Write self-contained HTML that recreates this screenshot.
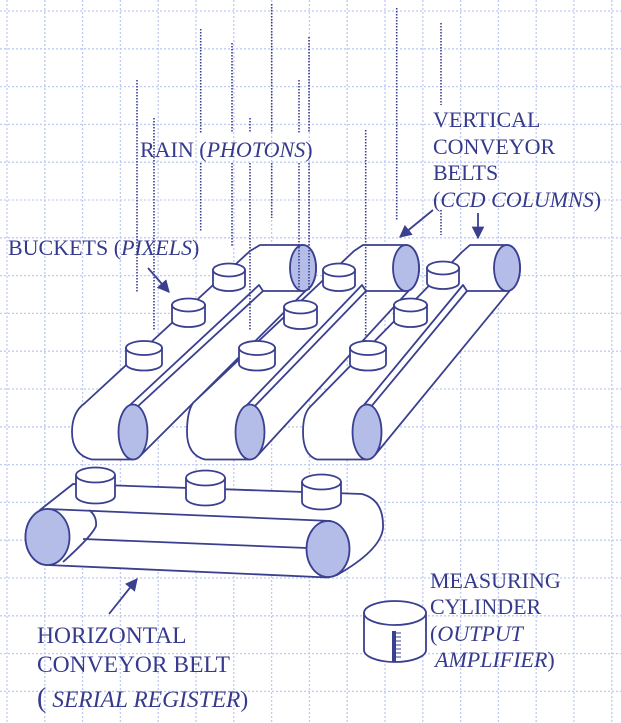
<!DOCTYPE html>
<html><head><meta charset="utf-8"><style>
html,body{margin:0;padding:0;background:#fff;}
svg{display:block;}
text{font-family:"Liberation Serif",serif;font-size:22px;fill:#353a8c;}
</style></head><body>
<svg width="621" height="723" viewBox="0 0 621 723" xmlns="http://www.w3.org/2000/svg">
<defs>
<marker id="ah" viewBox="0 0 10 10" refX="9" refY="5" markerWidth="7" markerHeight="7" orient="auto"><path d="M0,0 L10,5 L0,10 Z" fill="#3a3f8f"/></marker>
</defs>
<!-- grid -->
<g stroke="#bfcbf3" stroke-width="1.3" stroke-dasharray="2 2">
<line x1="7" y1="0" x2="7" y2="723"/><line x1="44.8" y1="0" x2="44.8" y2="723"/><line x1="82.6" y1="0" x2="82.6" y2="723"/><line x1="120.4" y1="0" x2="120.4" y2="723"/><line x1="158.2" y1="0" x2="158.2" y2="723"/><line x1="196" y1="0" x2="196" y2="723"/><line x1="233.8" y1="0" x2="233.8" y2="723"/><line x1="271.6" y1="0" x2="271.6" y2="723"/><line x1="309.4" y1="0" x2="309.4" y2="723"/><line x1="347.2" y1="0" x2="347.2" y2="723"/><line x1="385" y1="0" x2="385" y2="723"/><line x1="422.8" y1="0" x2="422.8" y2="723"/><line x1="460.6" y1="0" x2="460.6" y2="723"/><line x1="498.4" y1="0" x2="498.4" y2="723"/><line x1="536.2" y1="0" x2="536.2" y2="723"/><line x1="574" y1="0" x2="574" y2="723"/><line x1="611.8" y1="0" x2="611.8" y2="723"/>
<line x1="0" y1="11" x2="621" y2="11"/><line x1="0" y1="48.8" x2="621" y2="48.8"/><line x1="0" y1="86.6" x2="621" y2="86.6"/><line x1="0" y1="124.4" x2="621" y2="124.4"/><line x1="0" y1="162.2" x2="621" y2="162.2"/><line x1="0" y1="200" x2="621" y2="200"/><line x1="0" y1="237.8" x2="621" y2="237.8"/><line x1="0" y1="275.6" x2="621" y2="275.6"/><line x1="0" y1="313.4" x2="621" y2="313.4"/><line x1="0" y1="351.2" x2="621" y2="351.2"/><line x1="0" y1="389" x2="621" y2="389"/><line x1="0" y1="426.8" x2="621" y2="426.8"/><line x1="0" y1="464.6" x2="621" y2="464.6"/><line x1="0" y1="502.4" x2="621" y2="502.4"/><line x1="0" y1="540.2" x2="621" y2="540.2"/><line x1="0" y1="578" x2="621" y2="578"/><line x1="0" y1="615.8" x2="621" y2="615.8"/><line x1="0" y1="653.6" x2="621" y2="653.6"/><line x1="0" y1="691.4" x2="621" y2="691.4"/>
</g>

<g stroke="#3a3f8f" stroke-width="1.8" fill="#fff" stroke-linejoin="round">
<!-- belt 1 -->
<path d="M85,403 L250,251 L260,245 L303,245 A13 23 0 0 1 306,290.4 L141,455 L133,459.5 L92,459.5 Q72,455 72,432 Q72,412 85,403 Z"/>
<path d="M130,405 L259,285 L263,291 L303,291 M136,408 L263,291" fill="none"/>
<ellipse cx="133" cy="432" rx="14.5" ry="27.5" fill="#b4bde8"/>
<ellipse cx="303" cy="268" rx="13" ry="23" fill="#b4bde8"/>
<!-- belt 2 -->
<path d="M193,403 L354,251 L363,245 L406,245 A13 23 0 0 1 409,290.4 L258,455 L250,459.5 L205,459.5 Q187,455 187,432 Q187,412 193,403 Z"/>
<path d="M247,405 L362,285 L366,291 L406,291 M253,408 L366,291" fill="none"/>
<ellipse cx="250" cy="432" rx="14.5" ry="27.5" fill="#b4bde8"/>
<ellipse cx="406" cy="268" rx="13" ry="23" fill="#b4bde8"/>
<!-- belt 3 -->
<path d="M310,407 L462,252 L470,245 L507,245 A13 23 0 0 1 510,290.4 L375,455 L367,459.5 L317,459.5 Q303,455 303,432 Q303,414 310,407 Z"/>
<path d="M364,405 L463,285 L467,291 L507,291 M370,408 L467,291" fill="none"/>
<ellipse cx="367" cy="432" rx="14.5" ry="27.5" fill="#b4bde8"/>
<ellipse cx="507" cy="268" rx="13" ry="23" fill="#b4bde8"/>
</g>

<!-- rain -->
<g stroke="#3a3f8f" stroke-width="1.6" stroke-dasharray="1.5 1.5" fill="none">
<line x1="137" y1="80" x2="137" y2="292"/>
<line x1="154" y1="118" x2="154" y2="330"/>
<line x1="200.7" y1="29" x2="200.7" y2="133"/><line x1="200.7" y1="163" x2="200.7" y2="232"/>
<line x1="232" y1="43" x2="232" y2="133"/><line x1="232" y1="163" x2="232" y2="246"/>
<line x1="250" y1="118" x2="250" y2="133"/><line x1="250" y1="163" x2="250" y2="330"/>
<line x1="271.7" y1="4" x2="271.7" y2="133"/><line x1="271.7" y1="163" x2="271.7" y2="218"/>
<line x1="299" y1="80" x2="299" y2="133"/><line x1="299" y1="163" x2="299" y2="290"/>
<line x1="309" y1="37" x2="309" y2="133"/><line x1="309" y1="163" x2="309" y2="290"/>
<line x1="365.7" y1="130" x2="365.7" y2="342"/>
<line x1="396.7" y1="8" x2="396.7" y2="220"/>
<line x1="441" y1="23" x2="441" y2="105"/><line x1="441" y1="210" x2="441" y2="235"/>
</g>

<!-- buckets vertical belts -->
<g stroke="#3a3f8f" stroke-width="1.8" fill="#fff">
<path d="M213,270 L213,285 A16 6 0 0 0 245,285 L245,270 Z"/><ellipse cx="229" cy="270" rx="16" ry="6.5"/>
<path d="M172,305 L172,321 A16.5 6 0 0 0 205,321 L205,305 Z"/><ellipse cx="188.5" cy="305" rx="16.5" ry="6.5"/>
<path d="M126,348 L126,364 A18 6.5 0 0 0 162,364 L162,348 Z"/><ellipse cx="144" cy="348" rx="18" ry="7"/>
<path d="M323,270 L323,285 A16 6 0 0 0 355,285 L355,270 Z"/><ellipse cx="339" cy="270" rx="16" ry="6.5"/>
<path d="M284,307 L284,323 A16.5 6 0 0 0 317,323 L317,307 Z"/><ellipse cx="300.5" cy="307" rx="16.5" ry="6.5"/>
<path d="M239,348 L239,364 A18 6.5 0 0 0 275,364 L275,348 Z"/><ellipse cx="257" cy="348" rx="18" ry="7"/>
<path d="M427,268 L427,283 A16 6 0 0 0 459,283 L459,268 Z"/><ellipse cx="443" cy="268" rx="16" ry="6.5"/>
<path d="M394,305 L394,321 A16.5 6 0 0 0 427,321 L427,305 Z"/><ellipse cx="410.5" cy="305" rx="16.5" ry="6.5"/>
<path d="M350,348 L350,364 A18 6.5 0 0 0 386,364 L386,348 Z"/><ellipse cx="368" cy="348" rx="18" ry="7"/>
</g>

<!-- horizontal belt -->
<g stroke="#3a3f8f" stroke-width="1.8" fill="#fff" stroke-linejoin="round">
<path d="M40,510 L73,484 L362,494 Q384,500 383,528 Q381,550 337,575 L328,577.5 L47.5,565 A22 28 0 0 1 47.5,509 Z"/>
<path d="M47.5,509 L331,521 M83,539 L307,548 M89,510 Q97,516 96,526 Q92,536 63,562" fill="none"/>
<ellipse cx="47.5" cy="537" rx="22" ry="28" fill="#b4bde8"/>
<ellipse cx="328" cy="549" rx="21.5" ry="28" fill="#b4bde8"/>
<path d="M76,475 L76,496 A19.5 7.5 0 0 0 115,496 L115,475 Z"/><ellipse cx="95.5" cy="475" rx="19.5" ry="7.5"/>
<path d="M186,478 L186,498 A19.5 7.5 0 0 0 225,498 L225,478 Z"/><ellipse cx="205.5" cy="478" rx="19.5" ry="7.5"/>
<path d="M302,482 L302,502 A19.5 7.5 0 0 0 341,502 L341,482 Z"/><ellipse cx="321.5" cy="482" rx="19.5" ry="7.5"/>
<!-- measuring cylinder -->
<path d="M364,613 L364,650 A31 12 0 0 0 426,650 L426,613 Z"/><ellipse cx="395" cy="613" rx="31" ry="12"/>
</g>
<rect x="392" y="631" width="4" height="31" fill="#3a3f8f"/>
<g stroke="#3a3f8f" stroke-width="1">
<line x1="396" y1="633" x2="401" y2="633"/><line x1="396" y1="637" x2="401" y2="637"/><line x1="396" y1="641" x2="401" y2="641"/><line x1="396" y1="645" x2="401" y2="645"/><line x1="396" y1="649" x2="401" y2="649"/><line x1="396" y1="653" x2="401" y2="653"/><line x1="396" y1="657" x2="401" y2="657"/>
</g>

<!-- arrows -->
<g stroke="#3a3f8f" stroke-width="1.8" fill="none" marker-end="url(#ah)">
<line x1="148" y1="268" x2="169" y2="292"/>
<line x1="433" y1="210" x2="400" y2="237"/>
<line x1="478" y1="213" x2="478" y2="238"/>
<line x1="109" y1="614" x2="137" y2="579"/>
</g>

<!-- text -->
<text x="140" y="157">RAIN (<tspan font-style="italic">PHOTONS</tspan>)</text>
<text x="433" y="127">VERTICAL</text>
<text x="433" y="154">CONVEYOR</text>
<text x="433" y="180">BELTS</text>
<text x="433" y="207">(<tspan font-style="italic">CCD COLUMNS</tspan>)</text>
<text x="8" y="255">BUCKETS (<tspan font-style="italic">PIXELS</tspan>)</text>
<text x="37" y="643" style="font-size:23.5px">HORIZONTAL</text>
<text x="37" y="672" style="font-size:23.5px">CONVEYOR BELT</text>
<text x="37" y="707" style="font-size:23.5px"><tspan style="font-size:28px">(</tspan><tspan font-style="italic"> SERIAL REGISTER</tspan>)</text>
<text x="430" y="588">MEASURING</text>
<text x="430" y="614">CYLINDER</text>
<text x="430" y="641">(<tspan font-style="italic">OUTPUT</tspan></text>
<text x="435" y="667" font-style="italic">AMPLIFIER<tspan font-style="normal">)</tspan></text>
</svg>
</body></html>
